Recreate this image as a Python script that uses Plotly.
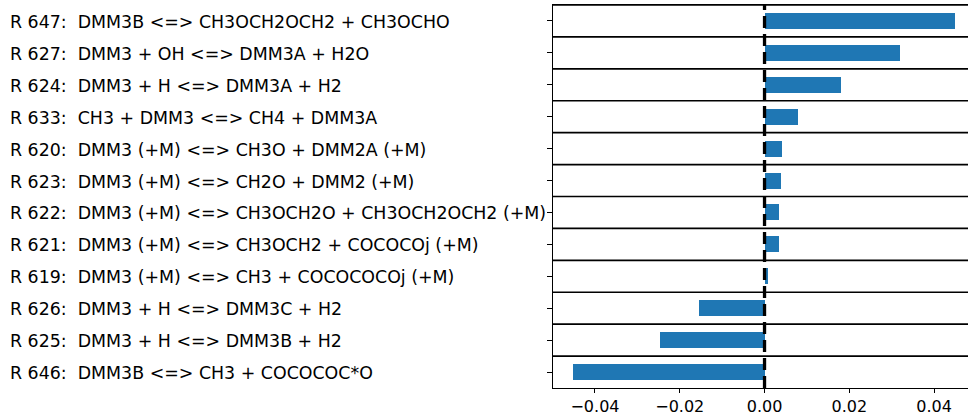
import plotly.graph_objects as go

# Reactions listed top to bottom
reactions = [
    "R 647:  DMM3B <=> CH3OCH2OCH2 + CH3OCHO",
    "R 627:  DMM3 + OH <=> DMM3A + H2O",
    "R 624:  DMM3 + H <=> DMM3A + H2",
    "R 633:  CH3 + DMM3 <=> CH4 + DMM3A",
    "R 620:  DMM3 (+M) <=> CH3O + DMM2A (+M)",
    "R 623:  DMM3 (+M) <=> CH2O + DMM2 (+M)",
    "R 622:  DMM3 (+M) <=> CH3OCH2O + CH3OCH2OCH2 (+M)",
    "R 621:  DMM3 (+M) <=> CH3OCH2 + COCOCOj (+M)",
    "R 619:  DMM3 (+M) <=> CH3 + COCOCOCOj (+M)",
    "R 626:  DMM3 + H <=> DMM3C + H2",
    "R 625:  DMM3 + H <=> DMM3B + H2",
    "R 646:  DMM3B <=> CH3 + COCOCOC*O",
]
sensitivity = [0.0449, 0.0320, 0.0181, 0.0080, 0.0042, 0.0038,
               0.0035, 0.0033, 0.0009, -0.0155, -0.0247, -0.0452]
x_ticks = [-0.04, -0.02, 0.0, 0.02, 0.04]

FONT = "DejaVu Sans"
FS = 17.4
W, H = 968, 416
ML, MR, MT, MB = 553, 0, 5, 28
pw = W - ML - MR

cats = list(range(len(reactions)))

fig = go.Figure()
fig.add_trace(go.Bar(
    x=sensitivity, y=cats, orientation="h", width=0.5,
    marker=dict(color="#1f77b4", line=dict(width=0)),
    hoverinfo="skip", showlegend=False,
))

shapes = []
# row separators
for i in range(len(reactions)):
    shapes.append(dict(type="line", xref="paper", yref="y", x0=0, x1=1,
                       y0=i - 0.5, y1=i - 0.5,
                       line=dict(color="black", width=1.6), layer="above"))
# zero reference line
shapes.append(dict(type="line", xref="x", yref="paper", x0=0, x1=0, y0=0, y1=1,
                   line=dict(color="black", width=3.3, dash="12px,6px"),
                   layer="above"))

annotations = []
for i, r in enumerate(reactions):
    annotations.append(dict(
        text=r, xref="paper", yref="y", x=(8 - ML) / pw, y=i, yshift=-1,
        xanchor="left", yanchor="middle", showarrow=False,
        font=dict(family=FONT, size=FS, color="black"),
    ))

fig.update_layout(
    width=W, height=H,
    margin=dict(l=ML, r=MR, t=MT, b=MB, pad=0, autoexpand=False),
    paper_bgcolor="white", plot_bgcolor="white",
    font=dict(family=FONT, size=FS, color="black"),
    bargap=0,
    shapes=shapes, annotations=annotations,
    xaxis=dict(
        range=[-0.0499, 0.0480], tickvals=x_ticks, tickformat=".2f",
        showgrid=False, zeroline=False, automargin=False,
        showline=True, linecolor="black", linewidth=1.1, mirror=True,
        ticks="outside", ticklen=3.5, tickwidth=1.1, tickcolor="black",
        ticklabelstandoff=0,
        tickfont=dict(family=FONT, size=16, color="black"),
    ),
    yaxis=dict(
        range=[len(reactions) - 0.5, -0.5], tickvals=cats, automargin=False,
        showticklabels=False, showgrid=False, zeroline=False,
        showline=True, linecolor="black", linewidth=1.1,
        ticks="outside", ticklen=4.7, tickwidth=1.1, tickcolor="black",
    ),
)

post = (
    "document.documentElement.style.margin='0';"
    "document.documentElement.style.overflow='hidden';"
    "document.body.style.margin='0';"
    "document.body.style.overflow='hidden';"
    "var gd=document.getElementById('{plot_id}');"
    "gd.style.position='fixed';gd.style.top='0';gd.style.left='0';"
)

fig.write_html("out.html", config={"displayModeBar": False}, post_script=post)
